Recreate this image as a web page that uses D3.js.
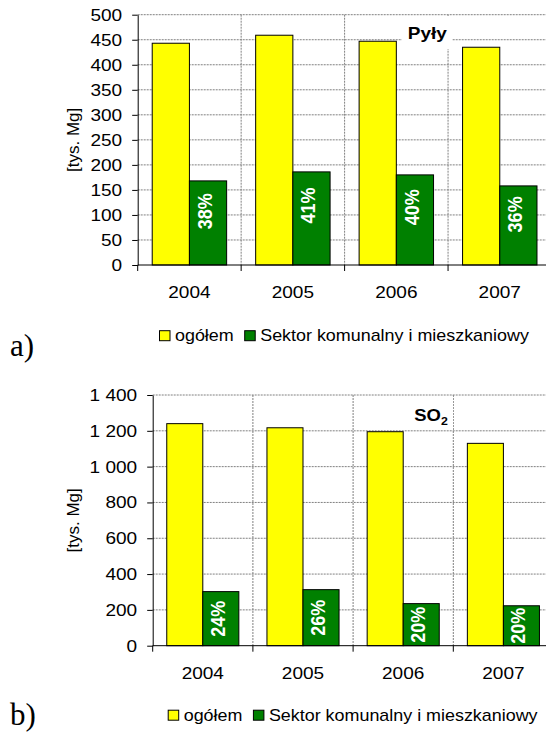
<!DOCTYPE html>
<html>
<head>
<meta charset="utf-8">
<script src="https://cdn.jsdelivr.net/npm/d3@7"></script>
<style>
  body { margin: 0; background: #fff; }
  svg { display: block; font-family: "Liberation Sans", Arial, sans-serif; }
</style>
</head>
<body>
<script>
var w = 546;
var h = 739;
var sx = 1.12; // the source picture is a bit stretched horizontally

// shared categories and series
var years = ["2004", "2005", "2006", "2007"];
var seriesNames = ["ogółem", "Sektor komunalny i mieszkaniowy"];
var seriesColors = ["#ffff00", "#008000"];

// a) Pyły  [tys. Mg]
var pylyTotal = [443, 459, 447, 435];
var pylySector = [168, 186, 180, 158];
var pylyShare = [38, 41, 40, 36];
var pylyTicks = [0, 50, 100, 150, 200, 250, 300, 350, 400, 450, 500];

// b) SO2  [tys. Mg]
var so2Total = [1240, 1217, 1195, 1130];
var so2Sector = [302, 313, 235, 223];
var so2Share = [24, 26, 20, 20];
var so2Ticks = [0, 200, 400, 600, 800, 1000, 1200, 1400];

// numbers like "1 400"
var fmt = d3.formatLocale({ decimal: ",", thousands: "\u00a0", grouping: [3], currency: ["", ""] }).format(",d");

var svg = d3.select("body").append("svg").attr("width", w).attr("height", h);

var charts = [
  { total: pylyTotal, sector: pylySector, share: pylyShare, ticks: pylyTicks,
    left: 137.7, right: 551.5, top: 14.7, bottom: 265, labelAt: 0.64,
    tag: "a)", tagY: 356, legendX: 159.5, legendY: 341,
    title: "Pyły", sub: null, titleX: 407.7, titleY: 39.3, box: [402, 16, 50, 33] },
  { total: so2Total, sector: so2Sector, share: so2Share, ticks: so2Ticks,
    left: 152.7, right: 553.5, top: 395, bottom: 645.7, labelAt: 0.5,
    tag: "b)", tagY: 725, legendX: 168.2, legendY: 720.5,
    title: "SO", sub: "2", titleX: 414.3, titleY: 421, box: [408, 396, 45, 34] }
];

charts.forEach(drawChart);

function drawChart(c) {
  var g = svg.append("g");

  var x0 = d3.scaleBand().domain(years).range([c.left, c.right]);
  var x1 = d3.scaleBand().domain([0, 1]).range([0, x0.bandwidth()]).paddingOuter(0.39);
  var y = d3.scaleLinear().domain([0, d3.max(c.ticks)]).range([c.bottom, c.top]);

  // grid
  g.append("g").selectAll("line")
    .data(c.ticks.filter(function(t) { return t > 0; }))
    .enter().append("line")
    .attr("x1", c.left).attr("x2", w)
    .attr("y1", function(d) { return y(d); })
    .attr("y2", function(d) { return y(d); })
    .attr("stroke", "#808080")
    .attr("stroke-dasharray", "2,1");

  g.append("g").selectAll("line")
    .data(years.slice(1))
    .enter().append("line")
    .attr("x1", function(d) { return x0(d); })
    .attr("x2", function(d) { return x0(d); })
    .attr("y1", c.top).attr("y2", c.bottom)
    .attr("stroke", "#808080")
    .attr("stroke-dasharray", "2,1");

  // chart title with its white box
  g.append("rect")
    .attr("x", c.box[0]).attr("y", c.box[1])
    .attr("width", c.box[2]).attr("height", c.box[3])
    .attr("fill", "#fff");

  var t = g.append("text")
    .attr("transform", "translate(" + c.titleX + "," + c.titleY + ") scale(" + sx + ",1)")
    .attr("font-size", c.sub ? 16.5 : 17)
    .attr("font-weight", "bold")
    .attr("fill", "#000")
    .text(c.title);
  if (c.sub) {
    t.append("tspan").attr("font-size", 11).attr("dy", 4).text(c.sub);
  }

  // bars
  var rows = years.map(function(yr, i) {
    return { year: yr, vals: [c.total[i], c.sector[i]], share: c.share[i] };
  });

  var groups = g.append("g").selectAll("g")
    .data(rows)
    .enter().append("g")
    .attr("transform", function(d) { return "translate(" + x0(d.year) + ",0)"; });

  groups.selectAll("rect")
    .data(function(d) { return d.vals; })
    .enter().append("rect")
    .attr("x", function(d, i) { return x1(i); })
    .attr("y", function(d) { return y(d); })
    .attr("width", x1.bandwidth())
    .attr("height", function(d) { return y(0) - y(d); })
    .attr("fill", function(d, i) { return seriesColors[i]; })
    .attr("stroke", "#000")
    .attr("stroke-width", 1);

  // share labels inside the green bars
  groups.append("text")
    .attr("transform", function(d) {
      var cx = x1(1) + x1.bandwidth() / 2 - 3.5;
      var cy = y(d.vals[1] * c.labelAt);
      return "translate(" + cx + "," + cy + ") scale(" + sx + ",1) rotate(-90)";
    })
    .attr("text-anchor", "middle")
    .attr("dy", "0.36em")
    .attr("font-size", 18)
    .attr("font-weight", "bold")
    .attr("fill", "#fff")
    .text(function(d) { return d.share + "%"; });

  // y axis
  var yAxis = g.append("g")
    .attr("transform", "translate(" + c.left + ",0)")
    .call(d3.axisLeft(y).tickValues(c.ticks).tickSize(5.5).tickSizeOuter(0).tickFormat(fmt));
  yAxis.attr("font-family", null).attr("font-size", null);
  yAxis.select(".domain").attr("stroke", "#000");
  yAxis.selectAll("line").attr("stroke", "#000");
  yAxis.selectAll("text")
    .attr("x", 0)
    .attr("transform", "translate(-15.5,0) scale(" + sx + ",1)")
    .attr("font-size", 17)
    .attr("fill", "#000");

  // x axis line and boundary ticks
  g.append("line")
    .attr("x1", c.left).attr("x2", w)
    .attr("y1", y(0)).attr("y2", y(0))
    .attr("stroke", "#000");

  g.append("g").selectAll("line")
    .data(years)
    .enter().append("line")
    .attr("x1", function(d) { return x0(d); })
    .attr("x2", function(d) { return x0(d); })
    .attr("y1", y(0)).attr("y2", y(0) + 6)
    .attr("stroke", "#000");

  g.append("g").selectAll("text")
    .data(years)
    .enter().append("text")
    .attr("transform", function(d) {
      return "translate(" + (x0(d) + x0.bandwidth() / 2) + "," + (y(0) + 33) + ") scale(" + sx + ",1)";
    })
    .attr("text-anchor", "middle")
    .attr("font-size", 17)
    .attr("fill", "#000")
    .text(function(d) { return d; });

  // y title
  g.append("text")
    .attr("transform", "translate(79," + ((c.top + c.bottom) / 2) + ") rotate(-90)")
    .attr("text-anchor", "middle")
    .attr("font-size", 17)
    .attr("fill", "#000")
    .text("[tys. Mg]");

  // legend
  var lx = c.legendX;
  seriesNames.forEach(function(name, i) {
    g.append("rect")
      .attr("x", lx).attr("y", c.legendY - 10.3)
      .attr("width", 10.5).attr("height", 10)
      .attr("fill", seriesColors[i])
      .attr("stroke", "#000");
    var lt = g.append("text")
      .attr("transform", "translate(" + (lx + 15.5) + "," + c.legendY + ") scale(" + sx + ",1)")
      .attr("font-size", 16)
      .attr("fill", "#000")
      .text(name);
    lx += 15.5 + lt.node().getComputedTextLength() * sx + 11;
  });

  // panel tag
  svg.append("text")
    .attr("x", 10).attr("y", c.tagY)
    .attr("font-family", "'Liberation Serif', 'Times New Roman', serif")
    .attr("font-size", 31)
    .attr("fill", "#000")
    .text(c.tag);
}
</script>
</body>
</html>
